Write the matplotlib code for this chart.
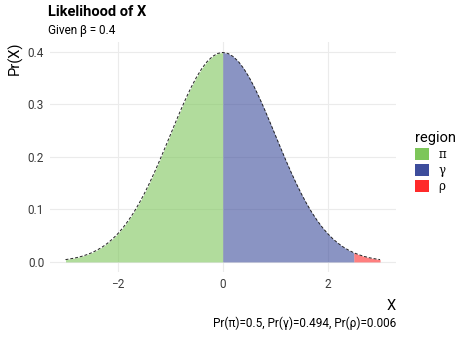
import matplotlib
matplotlib.use("Agg")
import matplotlib.pyplot as plt
from matplotlib.patches import Patch
import numpy as np

plt.rcParams['font.family'] = ['Roboto', 'DejaVu Sans']

# density values, x step 0.1
x = [-3.0, -2.9, -2.8, -2.7, -2.6, -2.5, -2.4, -2.3, -2.2, -2.1,
     -2.0, -1.9, -1.8, -1.7, -1.6, -1.5, -1.4, -1.3, -1.2, -1.1,
     -1.0, -0.9, -0.8, -0.7, -0.6, -0.5, -0.4, -0.3, -0.2, -0.1,
     0.0, 0.1, 0.2, 0.3, 0.4, 0.5, 0.6, 0.7, 0.8, 0.9,
     1.0, 1.1, 1.2, 1.3, 1.4, 1.5, 1.6, 1.7, 1.8, 1.9,
     2.0, 2.1, 2.2, 2.3, 2.4, 2.5, 2.6, 2.7, 2.8, 2.9, 3.0]
px = [0.0044, 0.0060, 0.0079, 0.0104, 0.0136, 0.0175, 0.0224, 0.0283, 0.0355, 0.0440,
      0.0540, 0.0656, 0.0790, 0.0940, 0.1109, 0.1295, 0.1497, 0.1714, 0.1942, 0.2179,
      0.2420, 0.2661, 0.2897, 0.3123, 0.3332, 0.3521, 0.3683, 0.3814, 0.3910, 0.3970,
      0.3989, 0.3970, 0.3910, 0.3814, 0.3683, 0.3521, 0.3332, 0.3123, 0.2897, 0.2661,
      0.2420, 0.2179, 0.1942, 0.1714, 0.1497, 0.1295, 0.1109, 0.0940, 0.0790, 0.0656,
      0.0540, 0.0440, 0.0355, 0.0283, 0.0224, 0.0175, 0.0136, 0.0104, 0.0079, 0.0060, 0.0044]
regions = ['π', 'γ', 'ρ']
bounds = [(-3.0, 0.0), (0.0, 2.5), (2.5, 3.0)]
colors = ['#7dc65a', '#3d4d9c', '#ff2a2a']
probs = [0.5, 0.494, 0.006]

x = np.array(x)
px = np.array(px)

fig = plt.figure(figsize=(4.74, 3.38), dpi=100)
ax = fig.add_axes([0.105, 0.194, 0.73, 0.682])

for lab, (a, b), c in zip(regions, bounds, colors):
    m = (x >= a - 1e-9) & (x <= b + 1e-9)
    ax.fill_between(x[m], 0, px[m], color=c, alpha=0.6, linewidth=0)
ax.plot(x, px, color='#222222', linestyle=(0, (3, 2)), linewidth=0.7)

ax.set_xlim(-3.3, 3.3)
ax.set_ylim(-0.02, 0.419)
ax.set_xticks([-2, 0, 2])
ax.set_yticks([0.0, 0.1, 0.2, 0.3, 0.4])
ax.set_yticklabels(['0.0', '0.1', '0.2', '0.3', '0.4'])
ax.grid(True, color='#ebebeb', linewidth=0.8)
ax.set_axisbelow(True)
for s in ax.spines.values():
    s.set_visible(False)
ax.tick_params(length=0, labelsize=8.5, labelcolor='#3a3a3a', pad=4)

ax.set_xlabel('X', fontsize=10.5, loc='right', labelpad=6)
ax.set_ylabel('Pr(X)', fontsize=10.5, loc='top', labelpad=4)

fig.text(0.101, 0.965, 'Likelihood of X', fontsize=10.5, fontweight='bold', va='center')
fig.text(0.101, 0.91, 'Given β = 0.4', fontsize=8.5, va='center')
cap = 'Pr(π)={}, Pr(γ)={}, Pr(ρ)={}'.format(*probs)
fig.text(0.835, 0.045, cap, fontsize=8.5, ha='right', va='center')

handles = [Patch(facecolor=c, edgecolor='none') for c in colors]
leg = fig.legend(handles, regions, title='region', loc='upper left',
                 bbox_to_anchor=(0.865, 0.627), frameon=False,
                 prop={'family': 'DejaVu Serif', 'size': 8.5},
                 title_fontsize=10.5, handlelength=1.2, handleheight=1.2,
                 handletextpad=0.8, labelspacing=0.25, borderaxespad=0)
leg.get_title().set_family(['Roboto', 'DejaVu Sans'])
leg._legend_box.align = 'left'

fig.savefig('out.png', dpi=100)
